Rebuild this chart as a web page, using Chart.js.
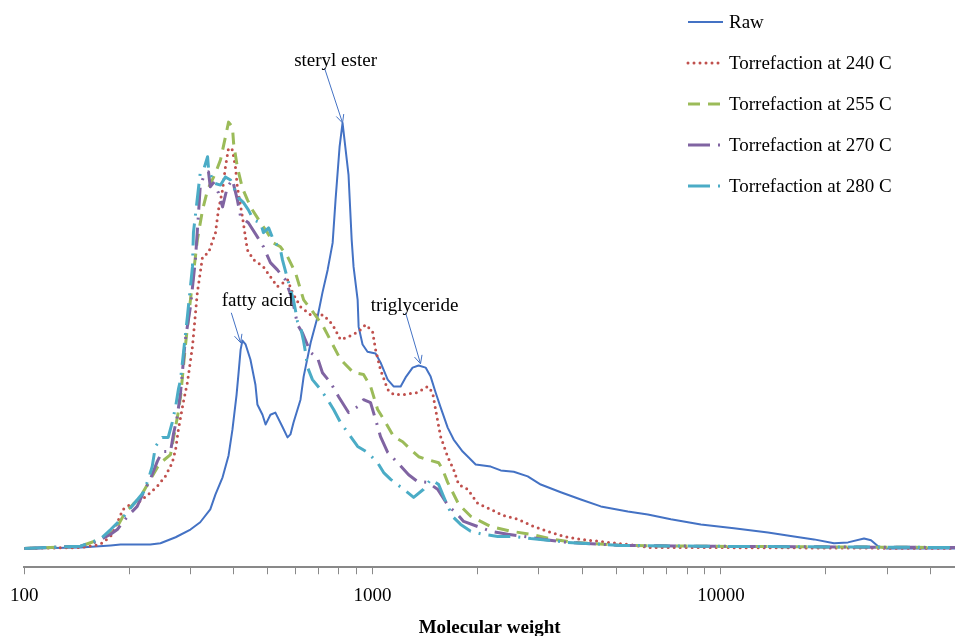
<!DOCTYPE html>
<html>
<head>
<meta charset="utf-8">
<title>Molecular weight distribution</title>
<script src="https://cdn.jsdelivr.net/npm/chart.js@4.4.0/dist/chart.umd.min.js"></script>
<style>
  html, body { margin: 0; padding: 0; background: #fff; }
  #wrap { width: 955px; height: 636px; }
</style>
</head>
<body>
<div id="wrap"><canvas id="mwChart" width="955" height="636"></canvas></div>
<script>
// Molecular weight (x) and detector signal (y) for each sample
const rawMW = [100, 145, 177, 189, 230, 246, 272, 300, 320, 342, 354, 371, 386, 396, 407, 412, 418, 423, 432, 446, 461, 467, 483, 493, 509, 526, 551, 570, 581, 593, 621, 634, 664, 695, 718, 743, 768, 783, 804, 820, 853, 871, 882, 906, 912, 936, 967, 1020, 1054, 1105, 1149, 1204, 1244, 1303, 1356, 1420, 1468, 1517, 1568, 1643, 1709, 1814, 1888, 1977, 2184, 2333, 2543, 2789, 3040, 3470, 3962, 4521, 5405, 6169, 7183, 8760, 10899, 13651, 16214, 18504, 21120, 23171, 25758, 26979, 28257, 29793, 47000];
const rawSignal = [0, 0.2, 0.7, 0.9, 0.9, 1.2, 2.6, 4.4, 6.1, 9.1, 12.6, 16.6, 21.7, 27.7, 35.9, 40.6, 46.4, 48.5, 47.6, 44.1, 38.2, 33.6, 31.2, 28.9, 31.2, 31.7, 28.4, 25.9, 26.6, 29.4, 34.7, 40.1, 48.0, 54.0, 59.7, 65.0, 71.3, 81.4, 93.7, 99.3, 87.2, 72.0, 65.7, 58.0, 51.7, 47.6, 45.9, 45.5, 43.4, 39.4, 37.8, 37.8, 39.9, 42.2, 42.7, 42.2, 40.1, 36.4, 32.9, 28.2, 25.4, 22.6, 21.2, 19.6, 19.1, 18.2, 17.9, 16.8, 14.9, 13.1, 11.4, 9.8, 8.6, 7.9, 6.8, 5.6, 4.7, 3.7, 2.8, 2.1, 1.2, 1.4, 2.3, 1.9, 0.5, 0, 0];

const t240MW = [100, 145, 165, 177, 183, 192, 202, 215, 227, 241, 254, 266, 272, 277, 286, 294, 304, 314, 325, 338, 354, 361, 371, 378, 386, 396, 404, 409, 423, 437, 455, 486, 509, 533, 570, 589, 621, 664, 723, 768, 809, 853, 912, 955, 1000, 1020, 1054, 1105, 1149, 1228, 1347, 1439, 1487, 1517, 1568, 1643, 1709, 1767, 1875, 2004, 2184, 2364, 2611, 2902, 3248, 3540, 3962, 4521, 5405, 6294, 8760, 47000];
const t240Signal = [0, 0.2, 0.9, 2.8, 5.1, 9.1, 10.3, 11.0, 12.6, 14.5, 16.8, 20.0, 23.1, 27.7, 34.0, 38.7, 47.1, 59.7, 68.1, 69.0, 73.7, 79.0, 83.7, 89.0, 93.5, 93.0, 89.0, 84.4, 77.4, 69.7, 67.4, 65.7, 63.4, 61.1, 62.7, 59.7, 56.4, 54.5, 54.5, 52.2, 48.7, 49.4, 50.6, 52.2, 50.6, 46.4, 41.7, 37.1, 35.9, 35.9, 36.4, 37.8, 36.4, 32.4, 26.1, 21.4, 18.4, 14.9, 13.8, 10.5, 9.1, 7.7, 6.8, 5.1, 3.7, 2.8, 2.1, 1.6, 0.9, 0.2, 0.2, 0];

const t255MW = [100, 145, 165, 183, 195, 215, 241, 249, 263, 277, 281, 290, 300, 314, 325, 336, 354, 366, 378, 386, 396, 399, 409, 423, 437, 452, 477, 499, 519, 544, 570, 601, 634, 677, 723, 768, 809, 882, 942, 987, 1034, 1090, 1149, 1220, 1286, 1356, 1439, 1548, 1589, 1643, 1698, 1767, 1913, 2184, 2493, 2845, 3313, 3782, 5160, 8760, 47000];
const t255Signal = [0, 0.5, 2.1, 4.4, 8.4, 11.9, 18.9, 20.3, 21.9, 31.9, 35.4, 47.1, 58.0, 72.0, 79.0, 83.7, 87.6, 90.7, 96.0, 99.5, 98.4, 94.6, 89.0, 84.1, 81.4, 79.0, 76.0, 73.7, 71.3, 70.4, 68.1, 64.3, 58.0, 55.0, 51.7, 47.6, 44.1, 41.0, 40.6, 37.8, 32.4, 29.4, 26.1, 24.9, 23.1, 21.4, 20.7, 20.0, 18.4, 15.4, 13.1, 10.3, 7.5, 5.1, 4.0, 3.3, 2.1, 1.4, 0.7, 0.5, 0.2];

const t270MW = [100, 145, 162, 177, 185, 198, 211, 220, 230, 241, 249, 263, 268, 275, 281, 290, 300, 310, 316, 320, 327, 338, 342, 349, 361, 371, 383, 396, 409, 418, 440, 467, 486, 509, 533, 562, 589, 609, 629, 664, 695, 718, 757, 799, 853, 906, 942, 987, 1020, 1054, 1105, 1180, 1269, 1347, 1439, 1537, 1654, 1732, 1826, 2004, 2184, 2444, 2716, 3101, 3634, 5160, 8760, 47000];
const t270Signal = [0, 0.5, 1.6, 3.3, 4.4, 7.5, 9.8, 13.1, 16.1, 20.3, 22.6, 22.6, 26.6, 30.8, 36.4, 48.7, 56.4, 67.4, 77.4, 84.4, 86.7, 87.9, 84.4, 85.3, 83.0, 79.7, 84.4, 86.0, 81.4, 77.4, 76.0, 72.7, 70.4, 66.7, 65.0, 62.7, 58.0, 52.2, 50.3, 45.7, 44.5, 41.0, 38.7, 35.4, 31.7, 33.1, 34.7, 34.0, 30.1, 26.1, 22.4, 20.0, 17.2, 15.6, 15.4, 13.8, 9.8, 8.4, 6.3, 5.1, 4.0, 3.3, 2.8, 2.1, 1.4, 0.7, 0.5, 0.2];

const t280MW = [100, 145, 155, 165, 177, 192, 206, 220, 227, 233, 238, 249, 259, 266, 272, 277, 281, 294, 304, 306, 316, 320, 327, 336, 338, 349, 366, 378, 391, 399, 409, 426, 440, 455, 477, 486, 503, 519, 544, 551, 581, 593, 609, 621, 634, 642, 651, 672, 709, 743, 773, 809, 865, 906, 967, 1034, 1076, 1127, 1228, 1312, 1401, 1468, 1548, 1643, 1709, 1790, 1913, 2071, 2287, 2543, 2845, 3184, 3634, 5160, 8760, 47000];
const t280Signal = [0, 0.5, 1.4, 2.1, 4.4, 7.2, 10.3, 13.1, 16.1, 19.1, 23.8, 25.9, 25.9, 29.4, 33.1, 37.1, 39.4, 54.1, 65.7, 73.7, 83.7, 87.6, 88.3, 91.4, 88.8, 85.3, 84.8, 86.7, 86.0, 84.4, 82.1, 80.7, 79.0, 76.7, 76.0, 73.7, 74.8, 72.0, 69.7, 67.4, 60.4, 58.0, 52.9, 51.7, 48.3, 45.7, 42.2, 39.4, 37.1, 34.7, 32.4, 29.4, 26.1, 23.8, 22.4, 20.0, 17.7, 16.1, 13.8, 11.9, 13.8, 16.1, 14.9, 9.8, 7.2, 5.6, 4.0, 3.3, 2.8, 2.8, 2.3, 1.9, 1.4, 0.7, 0.5, 0.2];

const seriesLabels = ['Raw', 'Torrefaction at 240 C', 'Torrefaction at 255 C', 'Torrefaction at 270 C', 'Torrefaction at 280 C'];

// tick marks along the log axis; only powers of ten get a label
const tickValues = [100, 200, 300, 400, 500, 600, 700, 800, 900, 1000, 2000, 3000, 4000, 5000, 6000, 7000, 8000, 9000, 10000, 20000, 30000, 40000];
const tickLabels = { 100: '100', 1000: '1000', 10000: '10000' };

// peak call-outs: label, peak (x, y) and where the text sits
const callouts = [
  { text: 'steryl ester', tipX: 820, tipY: 99.3, tailX: 728, tailY: 112.1, textX: 783, textY: 113.8 },
  { text: 'fatty acid', tipX: 418, tipY: 48.0, tailX: 393, tailY: 55.0, textX: 467, textY: 57.8 },
  { text: 'triglyceride', tipX: 1373, tipY: 43.1, tailX: 1244, tailY: 55.0, textX: 1320, textY: 56.6 }
];

const serif = '"Liberation Serif", "Times New Roman", serif';

function pairs(xs, ys) {
  return xs.map((x, i) => ({ x: x, y: ys[i] }));
}

// legend drawn in the top-right corner, one row per series
const cornerLegend = {
  id: 'cornerLegend',
  afterDraw(chart) {
    const c = chart.ctx;
    c.save();
    c.font = '19px ' + serif;
    c.textBaseline = 'middle';
    chart.data.datasets.forEach((ds, i) => {
      const y = 22 + i * 41;
      c.beginPath();
      c.strokeStyle = ds.borderColor;
      c.lineWidth = ds.borderWidth;
      c.lineCap = ds.borderCapStyle || 'butt';
      c.setLineDash(ds.borderDash || []);
      c.moveTo(688, y);
      c.lineTo(723, y);
      c.stroke();
      c.setLineDash([]);
      c.fillStyle = '#000';
      c.fillText(ds.label, 729, y + 1);
    });
    c.restore();
  }
};

// text labels with thin arrows pointing at the peaks
const peakCallouts = {
  id: 'peakCallouts',
  afterDatasetsDraw(chart) {
    const c = chart.ctx;
    const xs = chart.scales.x, ys = chart.scales.y;
    c.save();
    c.font = '19px ' + serif;
    c.textAlign = 'center';
    c.textBaseline = 'middle';
    callouts.forEach(a => {
      const x1 = xs.getPixelForValue(a.tailX), y1 = ys.getPixelForValue(a.tailY);
      const x2 = xs.getPixelForValue(a.tipX), y2 = ys.getPixelForValue(a.tipY);
      c.strokeStyle = '#4472C4';
      c.lineWidth = 1;
      c.beginPath();
      c.moveTo(x1, y1);
      c.lineTo(x2, y2);
      const ang = Math.atan2(y2 - y1, x2 - x1);
      const len = 9;
      c.moveTo(x2 - len * Math.cos(ang - 0.45), y2 - len * Math.sin(ang - 0.45));
      c.lineTo(x2, y2);
      c.lineTo(x2 - len * Math.cos(ang + 0.45), y2 - len * Math.sin(ang + 0.45));
      c.stroke();
      c.fillStyle = '#000';
      c.fillText(a.text, xs.getPixelForValue(a.textX), ys.getPixelForValue(a.textY));
    });
    c.restore();
  }
};

const ctx = document.getElementById('mwChart').getContext('2d');
const mwChart = new Chart(ctx, {
  type: 'line',
  data: {
    datasets: [{
      label: seriesLabels[0],
      data: pairs(rawMW, rawSignal),
      borderColor: '#4472C4',
      borderWidth: 2,
      order: 5
    }, {
      label: seriesLabels[1],
      data: pairs(t240MW, t240Signal),
      borderColor: '#C0504D',
      borderWidth: 3,
      borderDash: [0, 6],
      borderCapStyle: 'round',
      order: 4
    }, {
      label: seriesLabels[2],
      data: pairs(t255MW, t255Signal),
      borderColor: '#9BBB59',
      borderWidth: 3,
      borderDash: [12, 8],
      order: 3
    }, {
      label: seriesLabels[3],
      data: pairs(t270MW, t270Signal),
      borderColor: '#8064A2',
      borderWidth: 3,
      borderDash: [22, 8, 2, 8],
      order: 2
    }, {
      label: seriesLabels[4],
      data: pairs(t280MW, t280Signal),
      borderColor: '#4BACC6',
      borderWidth: 3,
      borderDash: [22, 8, 2, 8],
      order: 1
    }]
  },
  options: {
    responsive: false,
    animation: false,
    elements: {
      point: { radius: 0 },
      line: { tension: 0, fill: false, borderJoinStyle: 'round' }
    },
    layout: { padding: { left: 24, right: 0, top: 0, bottom: 0 } },
    plugins: {
      legend: { display: false },
      tooltip: { enabled: false }
    },
    scales: {
      x: {
        type: 'logarithmic',
        min: 100,
        max: 47000,
        afterBuildTicks: scale => {
          scale.ticks = tickValues.map(v => ({ value: v, major: v in tickLabels }));
        },
        ticks: {
          autoSkip: false,
          maxRotation: 0,
          padding: 10,
          color: '#000',
          font: { family: serif, size: 19 },
          callback: value => tickLabels[value] || ''
        },
        grid: {
          drawOnChartArea: false,
          drawTicks: true,
          tickLength: 7,
          color: '#898989',
          lineWidth: 1
        },
        border: { display: true, color: '#898989', width: 2 },
        title: {
          display: true,
          text: 'Molecular weight',
          color: '#000',
          font: { family: serif, size: 19, weight: 'bold', lineHeight: 0.84 },
          padding: { top: 3, bottom: 0 }
        }
      },
      y: {
        display: false,
        min: -4.4,
        max: 128
      }
    }
  },
  plugins: [cornerLegend, peakCallouts]
});
</script>
</body>
</html>
